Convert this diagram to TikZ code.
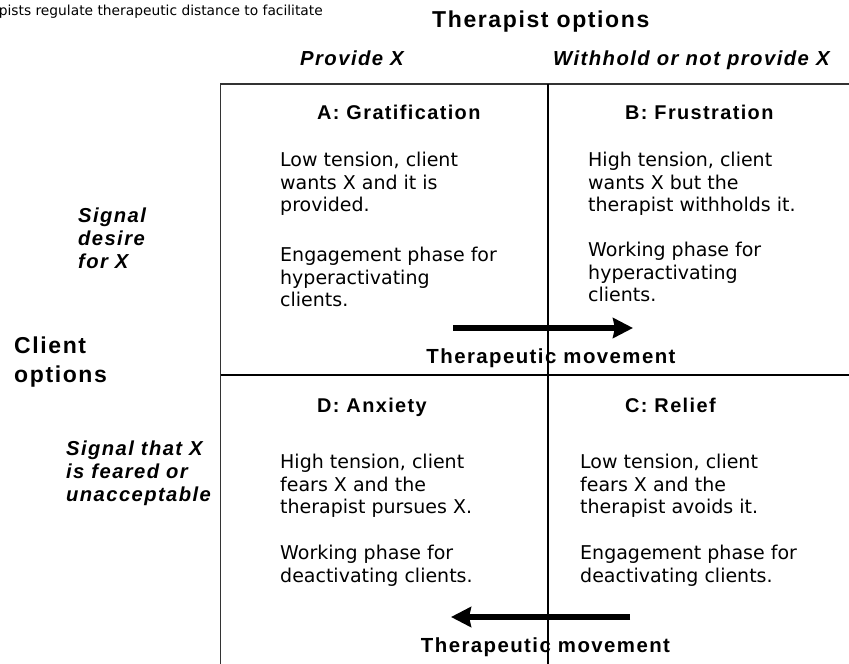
\documentclass[tikz,border=0pt]{standalone}
\usepackage{fontspec}
\setmainfont{DejaVu Sans}
\newfontfamily\hdfont[LetterSpace=7]{Liberation Sans}
\newfontfamily\bodyfont{DejaVu Sans}
\usetikzlibrary{arrows.meta}

\begin{document}
\begin{tikzpicture}[x=1pt,y=-1pt,
  lbl/.style={inner sep=0, font=\hdfont\bfseries\fontsize{19.9}{23}\selectfont},
  qhead/.style={lbl, anchor=base west},
  movelbl/.style={inner sep=0, anchor=base, font=\hdfont\bfseries\fontsize{20.4}{23}\selectfont},
  axislbl/.style={inner sep=0, anchor=north west, align=left,
    font=\hdfont\bfseries\itshape\fontsize{20.2}{23.3}\selectfont},
  colhead/.style={inner sep=0, anchor=base west,
    font=\hdfont\bfseries\itshape\fontsize{20.3}{23.3}\selectfont},
  bigtitle/.style={inner sep=0, align=left,
    font=\hdfont\bfseries\fontsize{23}{29}\selectfont},
  body/.style={inner sep=0, anchor=north west, align=left,
    font=\bodyfont\fontsize{19}{22.5}\selectfont},
  frame/.style={line width=1.5pt, draw=black!80},
  divider/.style={line width=2pt, draw=black},
  movearrow/.style={line width=6.7pt, -{Stealth[length=20pt,width=20pt,inset=2pt]}}
]
\useasboundingbox (0,0) rectangle (849,664);
\clip (0,0) rectangle (849,664);

% caption fragment at the top
\node[anchor=base east, inner sep=0, font=\bodyfont\fontsize{13.8}{16}\selectfont]
  (caption) at (323,15) {pists regulate therapeutic distance to facilitate};

% column titles
\node[bigtitle, anchor=base west] (topt) at (432,27) {Therapist options};
\node[colhead] (colA) at (300,65) {Provide X};
\node[colhead] (colB) at (553,65) {Withhold or not provide X};

% row titles
\node[bigtitle, anchor=north west] (copt) at (14,332.7) {\strut Client\\options};
\node[axislbl] (rowA) at (78,205.7) {\strut Signal\\desire\\for X};
\node[axislbl] (rowD) at (66,438.7) {\strut Signal that X\\is feared or\\unacceptable};

% grid
\draw[frame] (220.7,84) rectangle (900,700);
\draw[divider] (548.3,84) -- (548.3,700);
\draw[divider] (220.7,375) -- (900,375);

% quadrant A
\node[qhead] (hA) at (317,119) {A: Gratification};
\node[body] (tA1) at (280,150.7) {\strut Low tension, client\\wants X and it is\\provided.};
\node[body] (tA2) at (280,245.7) {\strut Engagement phase for\\hyperactivating\\clients.};

% quadrant B
\node[qhead] (hB) at (625,119) {B: Frustration};
\node[body] (tB1) at (588,150.7) {\strut High tension, client\\wants X but the\\therapist withholds it.};
\node[body] (tB2) at (588,240.7) {\strut Working phase for\\hyperactivating\\clients.};

% quadrant D
\node[qhead] (hD) at (317,412) {D: Anxiety};
\node[body] (tD1) at (280,452.7) {\strut High tension, client\\fears X and the\\therapist pursues X.};
\node[body] (tD2) at (280,543.7) {\strut Working phase for\\deactivating clients.};

% quadrant C
\node[qhead] (hC) at (625,412) {C: Relief};
\node[body] (tC1) at (580,452.7) {\strut Low tension, client\\fears X and the\\therapist avoids it.};
\node[body] (tC2) at (580,543.7) {\strut Engagement phase for\\deactivating clients.};

% therapeutic movement arrows
\coordinate (upFrom) at (453,328);
\coordinate (upTo) at (633,328);
\draw[movearrow] (upFrom) -- (upTo);
\node[movelbl] (upLbl) at (551,363) {Therapeutic movement};

\coordinate (loFrom) at (630,617);
\coordinate (loTo) at (451,617);
\draw[movearrow] (loFrom) -- (loTo);
\node[movelbl] (loLbl) at (545.5,652) {Therapeutic movement};
\end{tikzpicture}
\end{document}
